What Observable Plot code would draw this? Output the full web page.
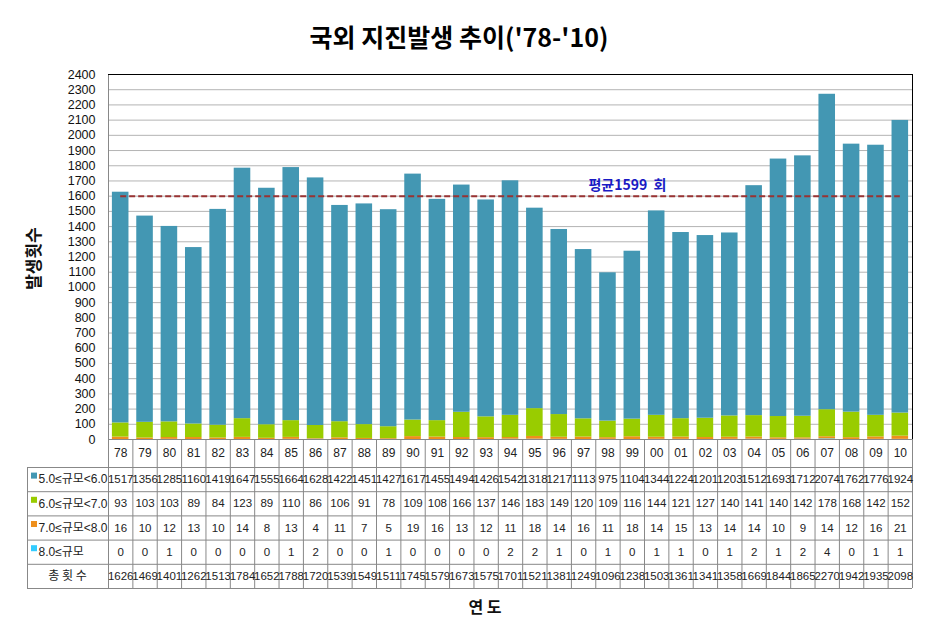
<!DOCTYPE html>
<html><head><meta charset="utf-8">
<script src="https://cdn.jsdelivr.net/npm/d3@7"></script>
<script src="https://cdn.jsdelivr.net/npm/@observablehq/plot@0.6"></script>
<style>
body{margin:0;background:#fff;width:938px;height:629px;overflow:hidden;font-family:"Liberation Sans","Noto Sans CJK KR",sans-serif}
#title{position:absolute;left:0;top:0;width:918px;height:60px;line-height:72px;text-align:center;font-family:"Noto Sans CJK KR",sans-serif;font-weight:bold;font-size:25px;color:#000}
#chart{position:absolute;left:0;top:60px}
</style></head><body>
<div id="title">국외 지진발생 추이('78-'10)</div>
<div id="chart"></div>
<script>
const years = ["78","79","80","81","82","83","84","85","86","87","88","89","90","91","92","93","94","95","96","97","98","99","00","01","02","03","04","05","06","07","08","09","10"];
const m5 = [1517,1356,1285,1160,1419,1647,1555,1664,1628,1422,1451,1427,1617,1455,1494,1426,1542,1318,1217,1113,975,1104,1344,1224,1201,1203,1512,1693,1712,2074,1762,1776,1924];
const m6 = [93,103,103,89,84,123,89,110,86,106,91,78,109,108,166,137,146,183,149,120,109,116,144,121,127,140,141,140,142,178,168,142,152];
const m7 = [16,10,12,13,10,14,8,13,4,11,7,5,19,16,13,12,11,18,14,16,11,18,14,15,13,14,14,10,9,14,12,16,21];
const m8 = [0,0,1,0,0,0,0,1,2,0,0,1,0,0,0,0,2,2,1,0,1,0,1,1,0,1,2,1,2,4,0,1,1];
const totals = [1626,1469,1401,1262,1513,1784,1652,1788,1720,1539,1549,1511,1745,1579,1673,1575,1701,1521,1381,1249,1096,1238,1503,1361,1341,1358,1669,1844,1865,2270,1942,1935,2098];
const seriesNames = ["5.0≤규모<6.0","6.0≤규모<7.0","7.0≤규모<8.0","8.0≤규모"];
const seriesColors = ["#4397b3","#99cc00","#ee8f1c","#33ccff"];
const totalLabel = "총 횟 수";
const average = 1599;
const averageLabel = "평균1599  회";
const yTicks = [0,100,200,300,400,500,600,700,800,900,1000,1100,1200,1300,1400,1500,1600,1700,1800,1900,2000,2100,2200,2300,2400];
const yTitle = "발생횟수";
const xTitle = "연 도";

// layout
const W = 938, H = 569, ML = 108, MR = 26, MT = 14, MB = 190;
const n = years.length;
const colW = (W - ML - MR) / n;
const k = (H - MT - MB) / 2400;
const yOff = px => -px / k;
const labelLeft = -(ML - 27) / colW;
const rowBounds = [0, 28, 52.2, 76.4, 100.6, 124.8, 149];
const rowCenter = i => (rowBounds[i] + rowBounds[i + 1]) / 2;

// stacked data, bottom-up
const seriesVals = [m5, m6, m7, m8];
const long = [];
years.forEach((yr, i) => {
  [3, 2, 1, 0].forEach(s => long.push({i, series: seriesNames[s], value: seriesVals[s][i]}));
});

const tableRows = seriesNames.map((name, s) => ({label: name, values: seriesVals[s], color: seriesColors[s]}));
tableRows.push({label: totalLabel, values: totals, color: null});

const numFont = {fontFamily: "Liberation Sans, Noto Sans CJK KR, sans-serif", fontSize: 11.5, fill: "#222"};

const marks = [
  Plot.gridY(yTicks, {stroke: "#b4b4b4", strokeOpacity: 1}),
  Plot.rectY(long, Plot.stackY({order: seriesNames.slice().reverse()}, {x1: d => d.i + 0.16, x2: d => d.i + 0.84, y: "value", fill: "series"})),
  Plot.ruleY([average], {x1: 0.5, x2: n - 0.5, stroke: "#993333", strokeWidth: 2, strokeDasharray: "6,3"}),
  Plot.text([averageLabel], {x: 19.7, y: 1672, text: d => d, textAnchor: "start", fill: "#1a1ac4", fontWeight: "bold", fontSize: 14, fontFamily: "Noto Sans CJK KR, sans-serif"}),
  Plot.axisY(yTicks, {tickSize: 0, tickPadding: 13, fontSize: 12.5, label: null, tickFormat: d => String(d), fill: "#111", fontFamily: "Liberation Sans, sans-serif"}),
  // frame
  Plot.ruleX([0], {y1: 0, y2: 2400, stroke: "#888"}),
  Plot.ruleX([n], {y1: 0, y2: 2400, stroke: "#000"}),
  Plot.ruleY([2400], {x1: 0, x2: n, stroke: "#000"}),
  // table lines
  Plot.ruleY(rowBounds, {y: d => yOff(d), x1: (d, i) => i === 0 ? 0 : labelLeft, x2: n, stroke: "#888"}),
  Plot.ruleX(d3.range(0, n + 1), {y1: 0, y2: yOff(rowBounds[6]), stroke: "#888"}),
  Plot.ruleX([labelLeft], {y1: yOff(rowBounds[1]), y2: yOff(rowBounds[6]), stroke: "#888"}),
  // year row
  Plot.text(years, {x: (d, i) => i + 0.5, y: yOff(rowCenter(0)), text: d => d, ...numFont, fontSize: 12}),
  // value rows
  ...tableRows.map((row, r) => Plot.text(row.values, {x: (d, i) => i + 0.5, y: yOff(rowCenter(r + 1)), text: d => String(d), ...numFont, letterSpacing: -0.6})),
  // labels
  Plot.dot(tableRows.filter(r => r.color), {x: labelLeft + 6.5 / colW, y: (d, i) => yOff(rowCenter(i + 1) - 4), symbol: "square", r: 3.4, fill: d => d.color, stroke: null}),
  Plot.text(tableRows.filter(r => r.color), {x: labelLeft + 11 / colW, y: (d, i) => yOff(rowCenter(i + 1)), text: "label", textAnchor: "start", fontSize: 12, fill: "#222", fontFamily: "Liberation Sans, Noto Sans CJK KR, sans-serif"}),
  Plot.text([totalLabel], {x: labelLeft + 40 / colW, y: yOff(rowCenter(5)), text: d => d, fontSize: 12, fill: "#222", fontFamily: "Noto Sans CJK KR, sans-serif"}),
  // axis titles
  Plot.text([yTitle], {x: -(ML - 34) / colW, y: 1190, rotate: -90, text: d => d, fontSize: 17, fontWeight: "bold", fill: "#111", fontFamily: "Noto Sans CJK KR, sans-serif"}),
  Plot.text([xTitle], {x: 15.45, y: yOff(168), text: d => d, fontSize: 16, fontWeight: "bold", fill: "#111", fontFamily: "Noto Sans CJK KR, sans-serif"})
];

const chart = Plot.plot({
  width: W, height: H,
  marginLeft: ML, marginRight: MR, marginTop: MT, marginBottom: MB,
  x: {domain: [0, n], axis: null},
  y: {domain: [0, 2400], axis: null},
  color: {domain: seriesNames, range: seriesColors},
  style: {background: "#fff", overflow: "visible"},
  marks
});
document.getElementById("chart").appendChild(chart);
</script>
</body></html>
